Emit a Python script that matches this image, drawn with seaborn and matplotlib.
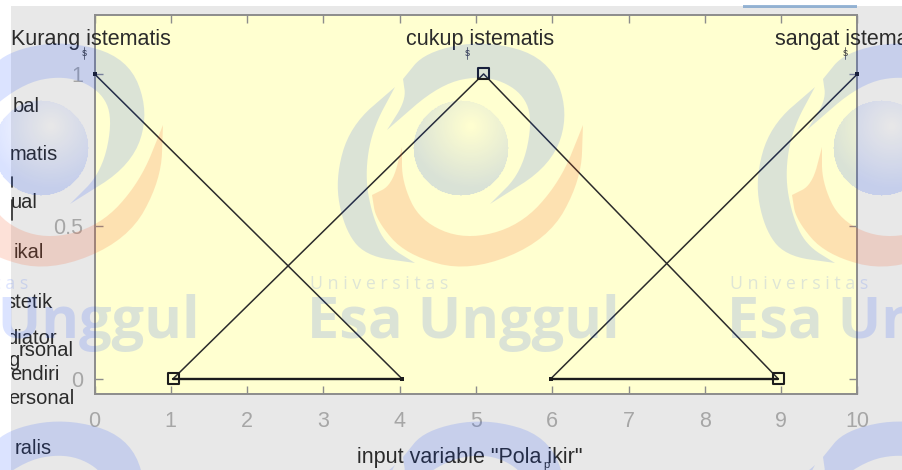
import numpy as np
import pandas as pd
import matplotlib
matplotlib.use("Agg")
import matplotlib.pyplot as plt
import seaborn as sns
from matplotlib.patches import Polygon, Rectangle

# membership functions
kurang_x = [0, 4.03]
kurang_y = [1, 0]
cukup_x = [1.03, 5.1, 8.96]
cukup_y = [0, 1, 0]
sangat_x = [5.98, 10]
sangat_y = [0, 1]
base_left_x = [1.03, 4.03]
base_right_x = [5.98, 8.96]
base_y = [0, 0]
handle_x = [1.03, 5.1, 8.96]
handle_y = [0, 1, 0]
foot_x = [0, 4.03, 5.98, 10]
foot_y = [1, 0, 0, 1]

x_ticks = [0, 1, 2, 3, 4, 5, 6, 7, 8, 9, 10]
y_ticks = [0, 0.5, 1]
y_tick_labels = ["0", "0.5", "1"]

mf_names = ["Kurang istematis", "cukup istematis", "sangat istematis"]
mf_name_x = [11, 406, 775]
mf_sub_x = [84, 467, 845]
side_words = ["bal", "matis", "ual", "ikal", "stetik", "diator", "rsonal", "g", "endiri", "ersonal", "ralis"]
side_right = [40, 58, 38, 44, 53, 57, 74, 19, 60, 74, 52]
side_y = [106, 154, 202, 253, 302, 338, 351, 361, 374, 398, 449]

W, H = 903, 470
GREY = "#a6a6a6"
INK = "#2b2b2b"

sns.set_theme(style="white")
plt.rcParams["font.family"] = ["Liberation Sans", "DejaVu Sans"]

fig = plt.figure(figsize=(W / 100, H / 100), dpi=100, facecolor="white")

# grey window behind the axes
bg = fig.add_axes([0, 0, 1, 1], zorder=0)
bg.set_xlim(0, W)
bg.set_ylim(H, 0)
bg.axis("off")
bg.add_patch(Rectangle((11, 6), W - 11, H - 6, color="#e8e8e8", lw=0))

L, R, T, B = 94.5, 857.5, 14.5, 394
ax = fig.add_axes([L / W, 1 - B / H, (R - L) / W, (B - T) / H], zorder=1, facecolor="#ffffd0")
ax.set_xlim(0, 10)
ax.set_ylim(-0.05, 1.195)

for xs, ys in [(kurang_x, kurang_y), (cukup_x, cukup_y), (sangat_x, sangat_y)]:
    sns.lineplot(x=xs, y=ys, ax=ax, color=INK, lw=1.1, estimator=None, sort=False, legend=False)
for xs in [base_left_x, base_right_x]:
    sns.lineplot(x=xs, y=base_y, ax=ax, color="#1c1c1c", lw=1.7, estimator=None, sort=False, legend=False)
handles = pd.DataFrame({"x": handle_x, "y": handle_y})
sns.scatterplot(data=handles, x="x", y="y", ax=ax, marker="s", s=62, facecolor="none",
                edgecolor="#1c1c1c", linewidth=1.5, legend=False, clip_on=False, zorder=4)
sns.scatterplot(x=foot_x, y=foot_y, ax=ax, marker="s", s=9, color="#1c1c1c", linewidth=0,
                legend=False, clip_on=False, zorder=4)

ax.set_xticks(x_ticks)
ax.set_yticks(y_ticks)
ax.set_yticklabels(y_tick_labels)
ax.tick_params(axis="both", which="major", direction="in", length=6, width=1, color="#8c8c8c",
               labelcolor=GREY, labelsize=15.5, top=True, right=True, bottom=True, left=True)
ax.tick_params(axis="x", pad=12)
ax.tick_params(axis="y", pad=8)
for s in ax.spines.values():
    s.set_color("#8c8c8c")
    s.set_linewidth(1.4)
ax.set_xlabel('input variable "Pola ikir"', fontsize=15.5, color=INK)
ax.set_ylabel("")
ax.xaxis.set_label_coords((470 - L) / (R - L), -(458 - B) / (B - T), transform=ax.transAxes)
ax.xaxis.label.set_va("center")

# everything placed in picture pixels
top = fig.add_axes([0, 0, 1, 1], zorder=3, facecolor="none")
top.set_xlim(0, W)
top.set_ylim(H, 0)
top.axis("off")

for name, x, sx in zip(mf_names, mf_name_x, mf_sub_x):
    top.text(x, 39, name, fontsize=15.5, color=INK, ha="left", va="center", clip_on=True)
    top.text(sx, 53, "s", fontsize=7.5, color="#444444", ha="center", va="center")
    top.plot([sx, sx], [47, 59], color="#555555", lw=0.6)
top.text(546, 465, "p", fontsize=8, color=INK, ha="center", va="center")

clip = Rectangle((11, 0), W, H, transform=top.transData)
for word, xr, y in zip(side_words, side_right, side_y):
    t = top.text(xr, y, word, fontsize=14.5, color=INK, ha="right", va="center", clip_on=True)
    t.set_clip_path(clip)
top.plot([12, 12], [177, 187], color=INK, lw=1.2)
top.plot([12, 12], [200, 220], color=INK, lw=1.2)


# watermark
def chaikin(pts, n=3):
    p = np.array(pts, dtype=float)
    for _ in range(n):
        q = 0.75 * p[:-1] + 0.25 * p[1:]
        r = 0.25 * p[:-1] + 0.75 * p[1:]
        mid = np.empty((2 * len(q), 2))
        mid[0::2] = q
        mid[1::2] = r
        p = np.vstack([p[:1], mid, p[-1:]])
    return p


def shape(*parts):
    return np.vstack([chaikin(c) for c in parts])


swoosh_right = shape(
    [(403, 79), (425, 52), (485, 40), (548, 58), (569, 112), (552, 165), (490, 204)],
    [(490, 204), (522, 172), (533, 118), (520, 90), (485, 75), (440, 84), (387, 130)],
    [(387, 130), (406, 100), (403, 79)],
)
swoosh_left = shape(
    [(395, 87), (350, 126), (335, 180), (344, 228), (365, 256), (415, 263)],
    [(415, 263), (386, 245), (372, 215), (365, 175), (372, 130), (395, 87)],
)
crescent = shape(
    [(583, 125), (581, 180), (548, 240), (470, 272), (406, 255), (376, 220), (372, 195)],
    [(372, 195), (392, 185), (402, 147)],
    [(402, 147), (402, 182), (420, 221), (465, 240), (520, 226), (560, 182), (583, 125)],
)

BLUE = (0, 0.24, 1.0)
ORANGE = (0.97, 0.32, 0.11)
gx, gy = np.meshgrid(np.linspace(-48, 48, 97), np.linspace(-48, 48, 97))
dist = np.hypot(gx, gy)
glow = np.hypot(gx - 10, gy + 22)
ball = np.zeros(gx.shape + (4,))
ball[..., :3] = BLUE
ball[..., 3] = np.where(dist <= 48, 0.15 * np.clip(glow / 62, 0.03, 1), 0)

wm = fig.add_axes([0, 0, 1, 1], zorder=5, facecolor="none")
wm.axis("off")
for dx in [-420, 0, 420]:
    for dy in [0, 378]:
        off = np.array([dx, dy])
        wm.add_patch(Polygon(swoosh_right + off, closed=True, color=BLUE, alpha=0.14, lw=0))
        wm.add_patch(Polygon(swoosh_left + off, closed=True, color=BLUE, alpha=0.14, lw=0))
        wm.add_patch(Polygon(crescent + off, closed=True, color=ORANGE, alpha=0.17, lw=0))
    cx = 461 + dx
    wm.imshow(ball, extent=(cx - 48, cx + 48, 196, 100), aspect="auto", interpolation="bilinear", zorder=1)
    wm.text(307 + dx, 338, "Esa Unggul", family="Open Sans", fontweight="bold", fontsize=41.5,
            color=BLUE, alpha=0.14, ha="left", va="baseline")
    wm.text(310 + dx, 284, "U n i v e r s i t a s", family="Open Sans", fontsize=12.8,
            color=BLUE, alpha=0.13, ha="left", va="center")
wm.add_patch(Rectangle((743, 5), 114, 2.5, color="#6f9ac8", alpha=0.7, lw=0))
wm.set_xlim(0, W)
wm.set_ylim(H, 0)

fig.savefig("out.png", dpi=100)
